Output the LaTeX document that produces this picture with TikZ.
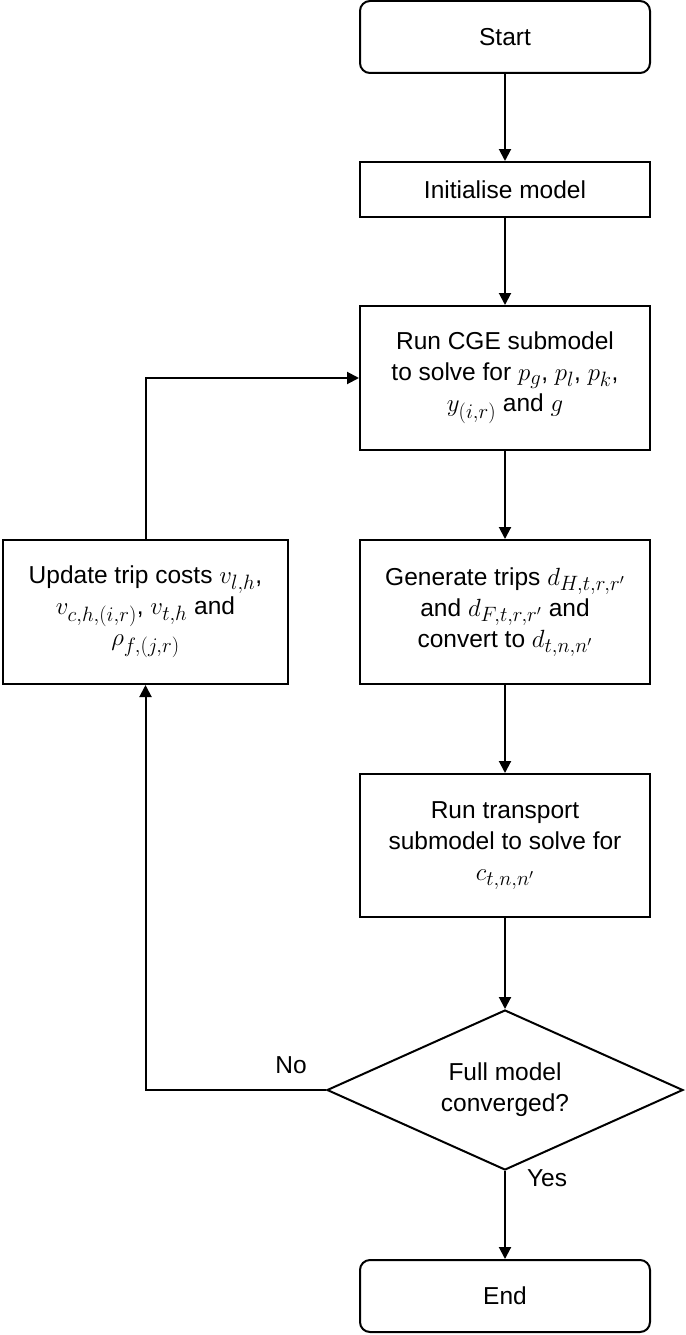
\documentclass[tikz,border=0pt]{standalone}
\usepackage{fontspec}
\setmainfont{Liberation Sans}
\usetikzlibrary{shapes.geometric,arrows.meta}
\newcommand{\mth}[1]{{\fontsize{28}{31}\selectfont$#1$}}
\begin{document}
\begin{tikzpicture}[x=1pt,y=-1pt,
  every node/.style={font=\fontsize{24.5}{31}\selectfont},
  box/.style={draw,line width=2pt,rectangle,minimum width=290pt,inner sep=2pt,align=center},
  term/.style={box,rounded corners=10pt,minimum height=72pt},
  decision/.style={draw,line width=2pt,diamond,minimum width=356pt,minimum height=160pt,inner sep=0pt,align=center,shape aspect=2.2},
  conn/.style={line width=2pt},
  arr/.style={conn,-{Triangle[length=12pt,width=12pt]}},
  lbl/.style={inner sep=0pt}]
\useasboundingbox (0,0) rectangle (685,1335);
\node[term] (start) at (505,37) {Start};
\node[box,minimum height=55pt] (init) at (505,189.5) {Initialise model};
\node[box,minimum height=144pt] (cge) at (505,378) {Run CGE submodel\\to solve for \mth{p_g}, \mth{p_l}, \mth{p_k},\\\mth{y_{(i,r)}} and \mth{g}};
\node[box,minimum height=144pt] (gen) at (505,612) {Generate trips \mth{d_{H,t,r,r'}}\\and \mth{d_{F,t,r,r'}} and\\convert to \mth{d_{t,n,n'}}};
\node[box,minimum width=285pt,minimum height=144pt] (upd) at (145.5,612) {Update trip costs \mth{v_{l,h}},\\\mth{v_{c,h,(i,r)}}, \mth{v_{t,h}} and\\\mth{\rho_{f,(j,r)}}};
\node[box,minimum height=143pt] (trans) at (505,845.5) {Run transport\\submodel to solve for\\\mth{c_{t,n,n'}}};
\node[decision] (dec) at (505,1090) {Full model\\converged?};
\node[term] (end) at (505,1296) {End};
\node[lbl] (no) at (291,1065) {No};
\node[lbl] (yes) at (547,1178) {Yes};
\draw[arr] (start) -- (init);
\draw[arr] (init) -- (cge);
\draw[arr] (cge) -- (gen);
\draw[arr] (gen) -- (trans);
\draw[arr] (trans) -- (dec);
\draw[arr] (dec) -- (end);
\draw[arr] (dec.west) -| (upd.south);
\draw[arr] (upd.north) |- (cge.west);
\end{tikzpicture}
\end{document}
